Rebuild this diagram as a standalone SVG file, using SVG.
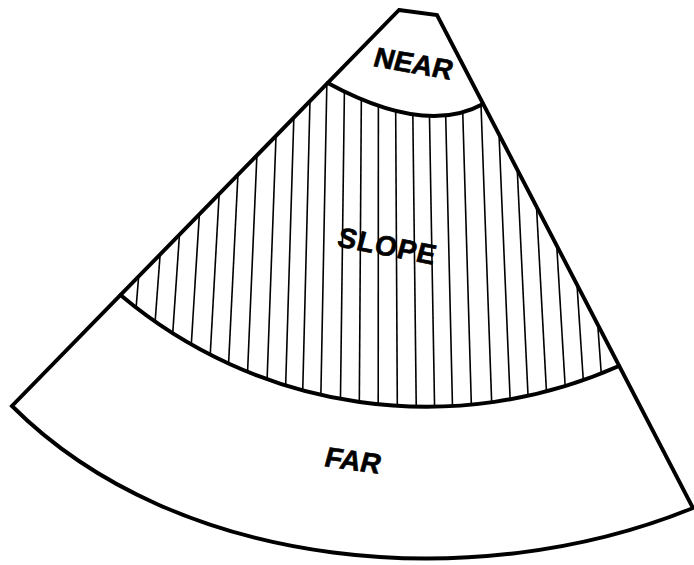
<svg xmlns="http://www.w3.org/2000/svg" width="694" height="565" viewBox="0 0 694 565">
<style>
.edge{fill:none;stroke:#000;stroke-width:3.9;stroke-linejoin:miter;stroke-linecap:round}
.hatch line{stroke:#000;stroke-width:1.6}
.lbl{font-family:"Liberation Sans",Arial,sans-serif;font-weight:bold;font-size:28px;fill:#000;stroke:#000;stroke-width:0.6}
</style>
<defs>
<clipPath id="slopeClip">
<path d="M327.7,83 L120.5,295 A475,475 0 0 0 619,366 L483,104 Q425.5,136 327.7,83 Z"/>
</clipPath>
</defs>
<rect width="694" height="565" fill="#fff"/>
<g id="slope">
<g class="hatch" clip-path="url(#slopeClip)">
<line x1="156.2" y1="60" x2="127.0" y2="420"/>
<line x1="174.6" y1="60" x2="147.8" y2="420"/>
<line x1="191.4" y1="60" x2="166.8" y2="420"/>
<line x1="208.9" y1="60" x2="186.6" y2="420"/>
<line x1="226.6" y1="60" x2="206.6" y2="420"/>
<line x1="243.6" y1="60" x2="225.8" y2="420"/>
<line x1="261.0" y1="60" x2="245.5" y2="420"/>
<line x1="278.8" y1="60" x2="265.6" y2="420"/>
<line x1="295.6" y1="60" x2="284.6" y2="420"/>
<line x1="311.0" y1="60" x2="302.0" y2="420"/>
<line x1="327.3" y1="60" x2="320.4" y2="420"/>
<line x1="344.8" y1="60" x2="340.2" y2="420"/>
<line x1="361.6" y1="60" x2="359.2" y2="420"/>
<line x1="378.4" y1="60" x2="378.2" y2="420"/>
<line x1="395.4" y1="60" x2="397.4" y2="420"/>
<line x1="412.2" y1="60" x2="416.4" y2="420"/>
<line x1="428.5" y1="60" x2="434.8" y2="420"/>
<line x1="444.4" y1="60" x2="452.8" y2="420"/>
<line x1="461.2" y1="60" x2="471.8" y2="420"/>
<line x1="479.4" y1="60" x2="492.3" y2="420"/>
<line x1="495.9" y1="60" x2="511.0" y2="420"/>
<line x1="512.0" y1="60" x2="529.2" y2="420"/>
<line x1="528.6" y1="60" x2="548.0" y2="420"/>
<line x1="545.6" y1="60" x2="567.2" y2="420"/>
<line x1="562.2" y1="60" x2="585.9" y2="420"/>
<line x1="578.7" y1="60" x2="604.6" y2="420"/>
</g>
<text class="lbl" letter-spacing="1" transform="translate(336,246) rotate(11) skewX(-4)">SLOPE</text>
</g>
<g id="connectors">
<path class="edge" d="M327.7,83 Q425.5,136 483,104"/>
<path class="edge" d="M120.5,295 A475,475 0 0 0 619,366"/>
</g>
<g id="outline">
<path class="edge" d="M399,10 L437,15 L693,508 C475.4,596.8 178,572 12,406 Z"/>
</g>
<g id="near">
<text class="lbl" transform="translate(372,66) rotate(10) skewX(-6)">NEAR</text>
</g>
<g id="far">
<text class="lbl" transform="translate(323,466) rotate(8) skewX(-7)">FAR</text>
</g>
</svg>
